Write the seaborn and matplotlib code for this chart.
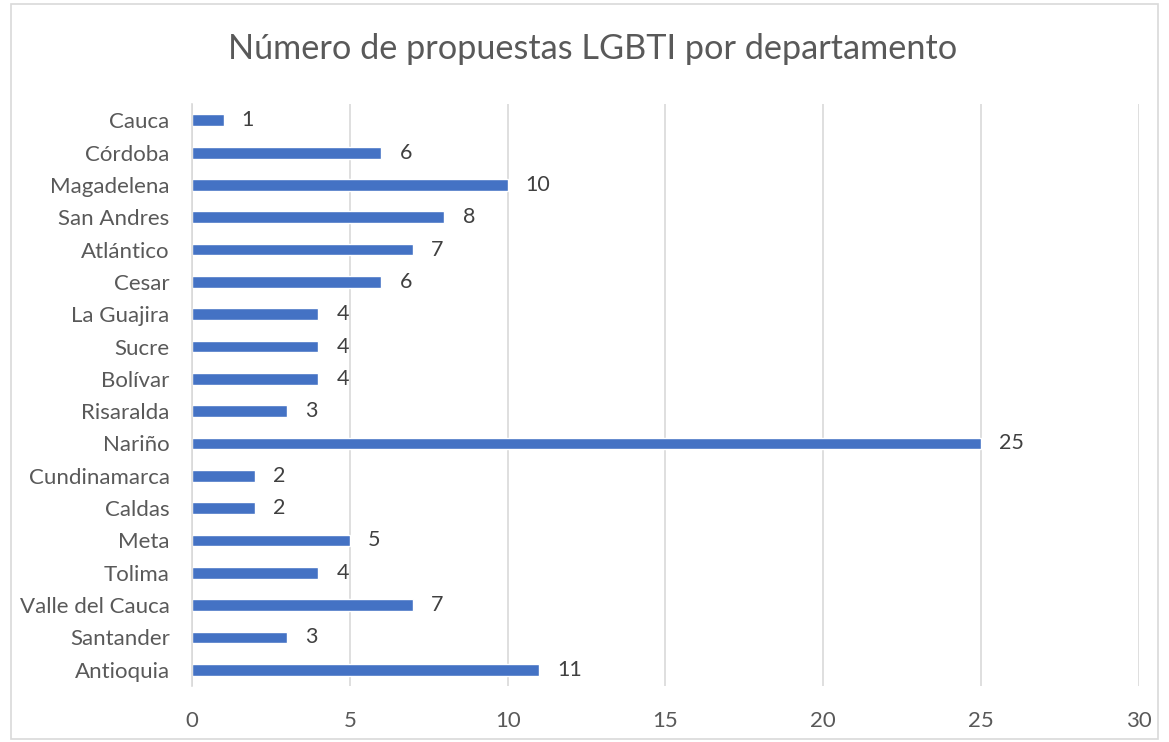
import matplotlib
matplotlib.use("Agg")
import matplotlib.pyplot as plt
import seaborn as sns
import pandas as pd
from matplotlib.patches import Rectangle

# datos (de arriba hacia abajo)
departamentos = ["Cauca", "Córdoba", "Magadelena", "San Andres", "Atlántico", "Cesar",
                 "La Guajira", "Sucre", "Bolívar", "Risaralda", "Nariño", "Cundinamarca",
                 "Caldas", "Meta", "Tolima", "Valle del Cauca", "Santander", "Antioquia"]
propuestas = [1, 6, 10, 8, 7, 6, 4, 4, 4, 3, 25, 2, 2, 5, 4, 7, 3, 11]
ticks_x = [0, 5, 10, 15, 20, 25, 30]

df = pd.DataFrame({"departamento": departamentos, "propuestas": propuestas})

sns.set_style("white")
plt.rcParams["font.family"] = ["Lato", "DejaVu Sans"]

fig = plt.figure(figsize=(11.69, 7.42), dpi=100)
ax = fig.add_axes([0.1642, 0.0755, 0.8101, 0.7843])

sns.barplot(data=df, x="propuestas", y="departamento", order=departamentos,
            color="#4472C4", saturation=1, width=0.37, orient="h", ax=ax)

# etiquetas de datos
for cont in ax.containers:
    ax.bar_label(cont, padding=13, fontsize=15.5, color="#404040")

ax.set_xlim(0, 30)
ax.set_xticks(ticks_x)
ax.set_ylim(len(departamentos) - 0.5, -0.5)
ax.grid(axis="x", color="#d9d9d9", linewidth=1.2)
ax.set_axisbelow(True)
for s in ["top", "right", "bottom"]:
    ax.spines[s].set_visible(False)
ax.spines["left"].set_color("#d9d9d9")
ax.spines["left"].set_linewidth(1.2)
ax.tick_params(axis="both", length=0, labelsize=16, colors="#595959")
ax.tick_params(axis="x", pad=18)
ax.tick_params(axis="y", pad=16)
ax.set_xlabel("")
ax.set_ylabel("")

fig.text(0.507, 0.934, "Número de propuestas LGBTI por departamento",
         ha="center", va="center", fontsize=24.7, color="#595959")

# borde del gráfico
fig.patches.append(Rectangle((0.009, 0.004), 0.982, 0.99, transform=fig.transFigure,
                             fill=False, edgecolor="#d9d9d9", linewidth=1.2))

fig.savefig("out.png", dpi=100)
